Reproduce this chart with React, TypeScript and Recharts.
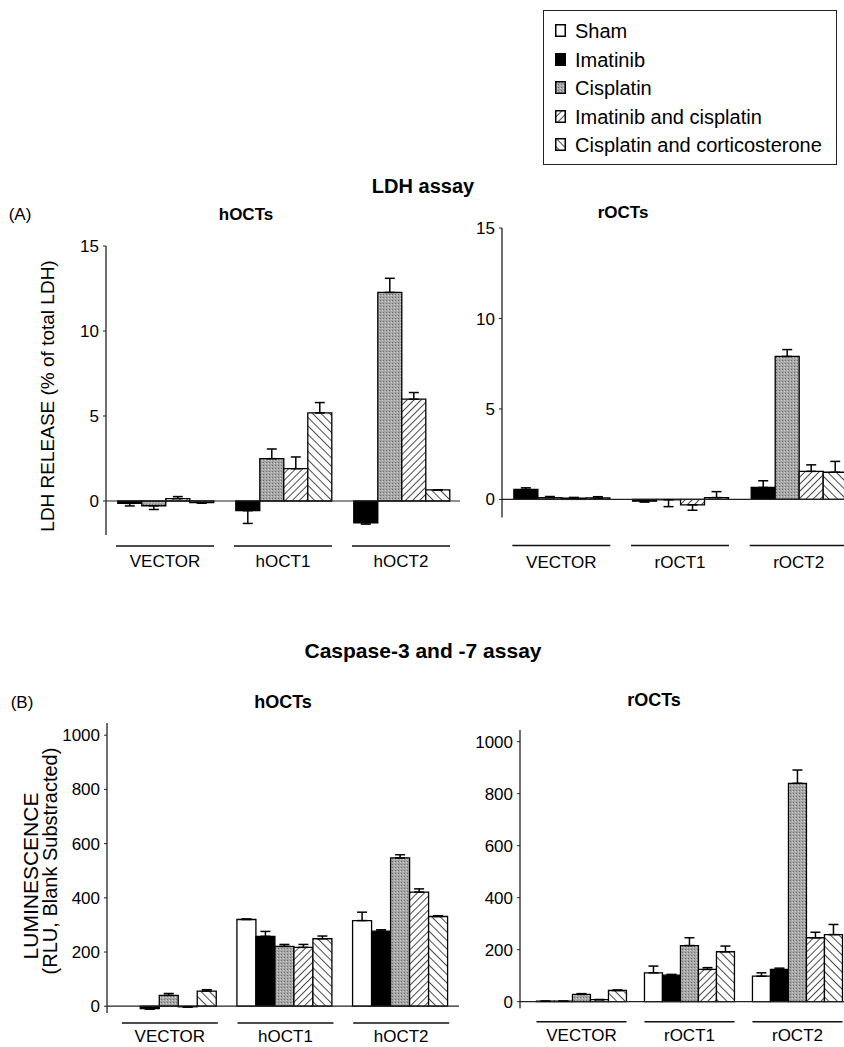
import React from "react";
import { BarChart, Bar, XAxis, YAxis, ErrorBar, ReferenceLine } from "recharts";

const FONT = '"Liberation Sans", Arial, Helvetica, sans-serif';

// treatments, in legend order
const treatments = [
  "Sham",
  "Imatinib",
  "Cisplatin",
  "Imatinib and cisplatin",
  "Cisplatin and corticosterone",
];
const keys = ["sham", "ima", "cis", "imacis", "ciscort"];

const hGroups = ["VECTOR", "hOCT1", "hOCT2"];
const rGroups = ["VECTOR", "rOCT1", "rOCT2"];

// (A) LDH release, % of total LDH (no sham bar in this assay)
const ldhHIma = [-0.14, -0.57, -1.28];
const ldhHImaErr = [0.15, 0.75, 0.08];
const ldhHCis = [-0.28, 2.49, 12.27];
const ldhHCisErr = [0.22, 0.57, 0.83];
const ldhHImaCis = [0.14, 1.9, 5.99];
const ldhHImaCisErr = [0.12, 0.69, 0.39];
const ldhHCisCort = [-0.1, 5.18, 0.65];
const ldhHCisCortErr = [0.03, 0.61, 0];

const ldhRIma = [0.55, -0.1, 0.66];
const ldhRImaErr = [0.09, 0.05, 0.37];
const ldhRCis = [0.1, -0.02, 7.9];
const ldhRCisErr = [0.06, 0.38, 0.38];
const ldhRImaCis = [0.07, -0.3, 1.55];
const ldhRImaCisErr = [0.04, 0.3, 0.36];
const ldhRCisCort = [0.08, 0.1, 1.5];
const ldhRCisCortErr = [0.07, 0.33, 0.6];

// (B) caspase-3/-7 luminescence, RLU
const casHSham = [0, 320, 316];
const casHShamErr = [0, 2, 31];
const casHIma = [-9, 258, 277];
const casHImaErr = [2, 18, 5];
const casHCis = [40, 221, 547];
const casHCisErr = [7, 7, 12];
const casHImaCis = [-2, 217, 421];
const casHImaCisErr = [1, 11, 12];
const casHCisCort = [56, 249, 331];
const casHCisCortErr = [5, 10, 3];

const casRSham = [2, 111, 98];
const casRShamErr = [0, 26, 13];
const casRIma = [2, 102, 124];
const casRImaErr = [0, 3, 5];
const casRCis = [28, 216, 840];
const casRCisErr = [3, 30, 51];
const casRImaCis = [8, 124, 246];
const casRImaCisErr = [0, 7, 21];
const casRCisCort = [43, 192, 258];
const casRCisCortErr = [2, 22, 39];

const ldhTicks = [0, 5, 10, 15];
const casTicks = [0, 200, 400, 600, 800, 1000];

const fills: Record<string, string> = {
  sham: "#ffffff",
  ima: "#000000",
  cis: "url(#stipple)",
  imacis: "url(#hatchUp)",
  ciscort: "url(#hatchDown)",
};

// error bars only point away from zero
const errPair = (v: number, e: number) => (v < 0 ? [e, 0] : [0, e]);

function makeRows(groups: string[], series: Record<string, [number[], number[]]>) {
  return groups.map((g, i) => {
    const row: any = { group: g };
    Object.keys(series).forEach((k) => {
      const [vals, errs] = series[k];
      row[k] = vals[i];
      row[k + "E"] = errPair(vals[i], errs[i]);
    });
    return row;
  });
}

const ldhH = makeRows(hGroups, {
  ima: [ldhHIma, ldhHImaErr],
  cis: [ldhHCis, ldhHCisErr],
  imacis: [ldhHImaCis, ldhHImaCisErr],
  ciscort: [ldhHCisCort, ldhHCisCortErr],
});
const ldhR = makeRows(rGroups, {
  ima: [ldhRIma, ldhRImaErr],
  cis: [ldhRCis, ldhRCisErr],
  imacis: [ldhRImaCis, ldhRImaCisErr],
  ciscort: [ldhRCisCort, ldhRCisCortErr],
});
const casH = makeRows(hGroups, {
  sham: [casHSham, casHShamErr],
  ima: [casHIma, casHImaErr],
  cis: [casHCis, casHCisErr],
  imacis: [casHImaCis, casHImaCisErr],
  ciscort: [casHCisCort, casHCisCortErr],
});
const casR = makeRows(rGroups, {
  sham: [casRSham, casRShamErr],
  ima: [casRIma, casRImaErr],
  cis: [casRCis, casRCisErr],
  imacis: [casRImaCis, casRImaCisErr],
  ciscort: [casRCisCort, casRCisCortErr],
});

function GroupTick(props: any) {
  const { x, y, payload, half, lineDy, textDy } = props;
  return (
    <g>
      <line x1={x - half} x2={x + half} y1={y + lineDy} y2={y + lineDy} stroke="#111" strokeWidth={1.6} />
      <text x={x} y={y + textDy} textAnchor="middle" fontSize={17} fill="#000" fontFamily={FONT}>
        {payload.value}
      </text>
    </g>
  );
}

type PanelProps = {
  data: any[];
  series: string[];
  axisX: number;
  plotTop: number;
  plotBottom: number;
  plotRight: number;
  yWidth: number;
  domain: [number, number];
  ticks: number[];
  padLeft: number;
  gap: string;
  half: number;
  lineDy: number;
  textDy: number;
  xh?: number;
};

function Panel(p: PanelProps) {
  const mt = 12;
  const xh = p.xh ?? 60;
  const left = p.axisX - p.yWidth;
  const width = p.plotRight - p.axisX + p.yWidth;
  const height = p.plotBottom - p.plotTop + mt + xh;
  return (
    <div style={{ position: "absolute", left, top: p.plotTop - mt }}>
      <BarChart
        width={width}
        height={height}
        data={p.data}
        margin={{ top: mt, right: 0, bottom: 0, left: 0 }}
        barCategoryGap={p.gap}
        barGap={0}
        style={{ fontFamily: FONT }}
      >
        <XAxis
          dataKey="group"
          height={xh}
          axisLine={false}
          tickLine={false}
          tickSize={0}
          tickMargin={0}
          interval={0}
          padding={{ left: p.padLeft, right: 0 }}
          tick={(tp: any) => <GroupTick {...tp} half={p.half} lineDy={p.lineDy} textDy={p.textDy} />}
        />
        <YAxis
          width={p.yWidth}
          type="number"
          domain={p.domain}
          ticks={p.ticks}
          allowDataOverflow
          interval={0}
          tickSize={3}
          tickMargin={4}
          axisLine={{ stroke: "#222", strokeWidth: 1.3 }}
          tickLine={{ stroke: "#222" }}
          tick={{ fontSize: 17, fill: "#000", fontFamily: FONT }}
        />
        <ReferenceLine y={0} stroke="#222" strokeWidth={1.2} />
        {p.series.map((k) => (
          <Bar key={k} dataKey={k} fill={fills[k]} stroke="#000" strokeWidth={1.3} isAnimationActive={false}>
            <ErrorBar dataKey={k + "E"} width={5} stroke="#000" strokeWidth={1.5} direction="y" />
          </Bar>
        ))}
      </BarChart>
    </div>
  );
}

function Txt({ x, y, children, size = 17, bold = false, rotate = 0 }: any) {
  return (
    <div
      style={{
        position: "absolute",
        left: x,
        top: y,
        transform: `translate(-50%, -50%) rotate(${rotate}deg)`,
        fontFamily: FONT,
        fontSize: size,
        fontWeight: bold ? 700 : 400,
        whiteSpace: "nowrap",
        lineHeight: 1,
        color: "#000",
      }}
    >
      {children}
    </div>
  );
}

function Swatch({ k }: { k: string }) {
  return (
    <svg width={11} height={13} style={{ position: "absolute", left: 0, top: 4 }}>
      <rect x={0.75} y={0.75} width={9.5} height={11.5} fill={fills[k]} stroke="#000" strokeWidth={1.5} />
    </svg>
  );
}

function LegendBox() {
  return (
    <div
      style={{
        position: "absolute",
        left: 543,
        top: 10,
        width: 294,
        height: 155,
        border: "1.5px solid #222",
        boxSizing: "border-box",
      }}
    >
      {treatments.map((t, i) => (
        <div
          key={t}
          style={{
            position: "absolute",
            left: 11,
            top: 9 + i * 28.5,
            height: 22,
            fontFamily: FONT,
            fontSize: 20,
            lineHeight: "22px",
            whiteSpace: "nowrap",
          }}
        >
          <Swatch k={keys[i]} />
          <span style={{ marginLeft: 20 }}>{t}</span>
        </div>
      ))}
    </div>
  );
}

export default function App() {
  const ldhKeys = keys.slice(1);
  return (
    <div
      style={{
        position: "absolute",
        left: 0,
        top: 0,
        width: 844,
        height: 1047,
        overflow: "hidden",
        background: "#fff",
      }}
    >
      <svg width={0} height={0} style={{ position: "absolute" }}>
        <defs>
          <pattern id="stipple" width="3" height="3" patternUnits="userSpaceOnUse">
            <rect width="3" height="3" fill="#a6a6a6" />
            <rect x="0" y="0" width="1" height="1" fill="#6e6e6e" />
            <rect x="2" y="1" width="1" height="1" fill="#d0d0d0" />
          </pattern>
          <pattern id="hatchUp" width="5" height="5" patternUnits="userSpaceOnUse" patternTransform="rotate(45)">
            <rect width="5" height="5" fill="#fff" />
            <line x1="0" y1="0" x2="0" y2="5" stroke="#000" strokeWidth="1.4" />
          </pattern>
          <pattern id="hatchDown" width="6" height="6" patternUnits="userSpaceOnUse" patternTransform="rotate(-45)">
            <rect width="6" height="6" fill="#fff" />
            <line x1="0" y1="0" x2="0" y2="6" stroke="#000" strokeWidth="1.4" />
          </pattern>
        </defs>
      </svg>

      <LegendBox />

      <Txt x={423} y={186} size={20} bold>LDH assay</Txt>
      <Txt x={20} y={214}>(A)</Txt>
      <Txt x={246} y={214} bold>hOCTs</Txt>
      <Txt x={623} y={212} bold>rOCTs</Txt>
      <Txt x={47} y={396} size={19} rotate={-90}>LDH RELEASE (% of total LDH)</Txt>

      <Panel
        data={ldhH}
        series={ldhKeys}
        axisX={106}
        plotTop={246}
        plotBottom={535}
        plotRight={460}
        yWidth={50}
        domain={[-2, 15]}
        ticks={ldhTicks}
        padLeft={0}
        gap="10%"
        half={49}
        lineDy={11}
        textDy={32}
      />
      <Panel
        data={ldhR}
        series={ldhKeys}
        axisX={502}
        plotTop={227.5}
        plotBottom={517}
        plotRight={858}
        yWidth={50}
        domain={[-1, 15]}
        ticks={ldhTicks}
        padLeft={0}
        gap="10%"
        half={49}
        lineDy={28}
        textDy={50}
      />

      <Txt x={423} y={650} size={21} bold>Caspase-3 and -7 assay</Txt>
      <Txt x={22} y={702}>(B)</Txt>
      <Txt x={283} y={702} size={18} bold>hOCTs</Txt>
      <Txt x={654} y={700} size={18} bold>rOCTs</Txt>
      <Txt x={30} y={876} size={21} rotate={-90}>LUMINESCENCE</Txt>
      <Txt x={50} y={861} size={20} rotate={-90}>(RLU, Blank Substracted)</Txt>

      <Panel
        data={casH}
        series={keys}
        axisX={107}
        plotTop={722.8}
        plotBottom={1012.8}
        plotRight={459}
        yWidth={60}
        domain={[-25, 1045]}
        ticks={casTicks}
        padLeft={5}
        gap="8%"
        half={48}
        lineDy={10}
        textDy={29}
        xh={34}
      />
      <Panel
        data={casR}
        series={keys}
        axisX={520}
        plotTop={730.3}
        plotBottom={1008.5}
        plotRight={851.5}
        yWidth={60}
        domain={[-25, 1045]}
        ticks={casTicks}
        padLeft={7.5}
        gap="8.3%"
        half={45}
        lineDy={13.5}
        textDy={32.5}
        xh={38}
      />
    </div>
  );
}
